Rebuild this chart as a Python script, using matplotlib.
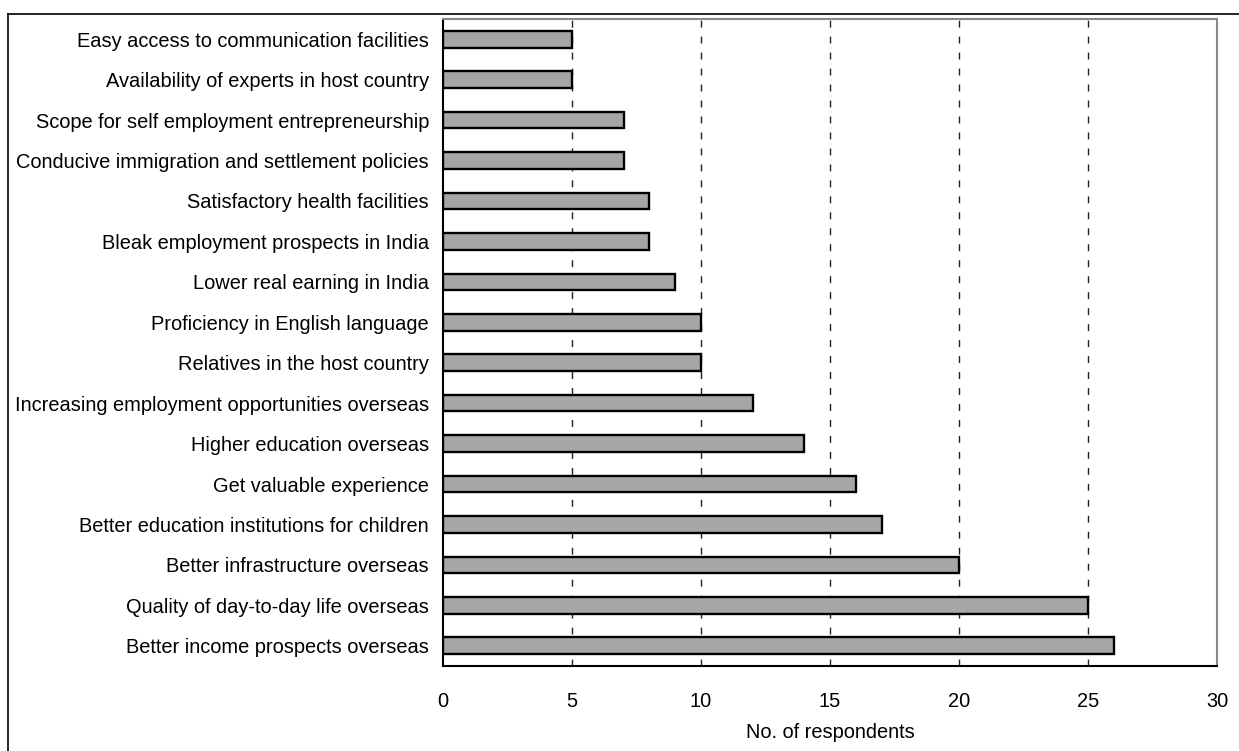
import matplotlib
matplotlib.use('Agg')
import matplotlib.pyplot as plt
from matplotlib.lines import Line2D

plt.rcParams['font.family'] = ['Liberation Sans', 'DejaVu Sans']

# reasons, top to bottom as shown
reasons = [
    "Easy access to communication facilities",
    "Availability of experts in host country",
    "Scope for self employment entrepreneurship",
    "Conducive immigration and settlement policies",
    "Satisfactory health facilities",
    "Bleak employment prospects in India",
    "Lower real earning in India",
    "Proficiency in English language",
    "Relatives in the host country",
    "Increasing employment opportunities overseas",
    "Higher education overseas",
    "Get valuable experience",
    "Better education institutions for children",
    "Better infrastructure overseas",
    "Quality of day-to-day life overseas",
    "Better income prospects overseas",
]
respondents = [5, 5, 7, 7, 8, 8, 9, 10, 10, 12, 14, 16, 17, 20, 25, 26]
x_ticks = [0, 5, 10, 15, 20, 25, 30]

fs = 14.4

fig = plt.figure(figsize=(12.39, 7.51), dpi=100)
ax = fig.add_axes([443 / 1239, 1 - 666 / 751, (1217 - 443) / 1239, (666 - 19) / 751])

pos = list(range(len(reasons)))
ax.barh(pos, respondents, height=0.41, color='#a6a6a6', edgecolor='black',
        linewidth=1.7, zorder=3)

# dashed gridlines
for t in x_ticks[1:-1]:
    ax.axvline(t, color='#222222', linestyle=(0, (5, 6.5)), linewidth=1.0, zorder=1)

ax.set_xlim(0, 30)
ax.set_ylim(len(reasons) - 0.5, -0.5)
ax.set_xticks(x_ticks)
ax.set_yticks(pos)
ax.set_yticklabels(reasons)
ax.tick_params(axis='both', length=0, labelsize=fs)
ax.tick_params(axis='x', pad=18.5)
ax.tick_params(axis='y', pad=10)
ax.set_xlabel("No. of respondents", fontsize=fs, labelpad=9)

ax.spines['left'].set_color('black')
ax.spines['bottom'].set_color('black')
ax.spines['top'].set_color('#888888')
ax.spines['right'].set_color('#888888')
for s in ax.spines.values():
    s.set_linewidth(1.5)

# outer frame (top and left edges visible)
fig.add_artist(Line2D([8 / 1239, 1], [1 - 14 / 751, 1 - 14 / 751], color='black', linewidth=1.2))
fig.add_artist(Line2D([8 / 1239, 8 / 1239], [0, 1 - 14 / 751], color='black', linewidth=1.2))

fig.savefig('out.png', dpi=100)
